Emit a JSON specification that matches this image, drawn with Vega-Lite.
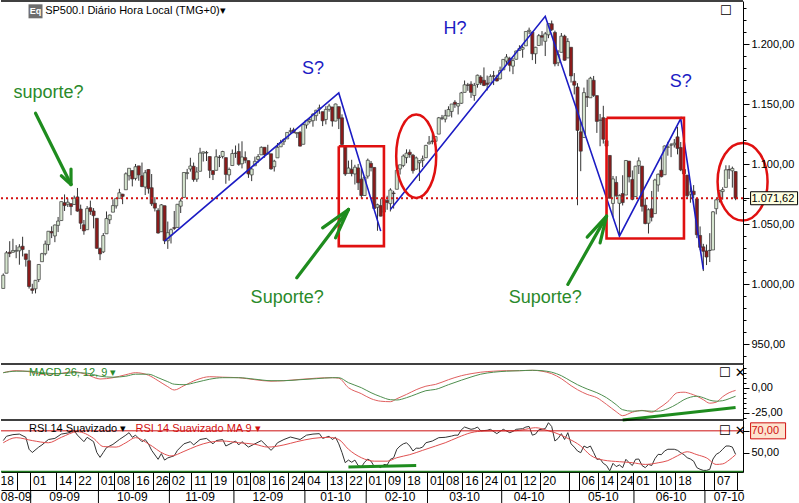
{
"$schema":"https://vega.github.io/schema/vega-lite/v6.json",
"padding":0,
"autosize":{"type":"pad"},
"background":"white",
"spacing":0,
"bounds":"flush",
"resolve":{"scale":{"x":"shared"}},
"config":{
 "view":{"stroke":null},
 "concat":{"spacing":0},
 "locale":{"number":{"decimal":",","thousands":".","grouping":[3],"currency":["",""],"minus":"-"}},
 "axis":{"labelFont":"Liberation Sans","labelColor":"#000000","domainColor":"#000000","tickColor":"#000000","grid":false},
 "text":{"font":"Liberation Sans"}
},
"datasets":{
"px":[
{"d":"2009-08-20","o":996.4,"h":1008.9,"l":996.4,"c":1007.4},
{"d":"2009-08-21","o":1009.1,"h":1027.6,"l":1009.1,"c":1026.1},
{"d":"2009-08-24","o":1026.6,"h":1035.8,"l":1022.5,"c":1025.6},
{"d":"2009-08-25","o":1026.6,"h":1037.8,"l":1026.2,"c":1028.0},
{"d":"2009-08-26","o":1027.4,"h":1032.5,"l":1021.6,"c":1028.1},
{"d":"2009-08-27","o":1027.8,"h":1033.3,"l":1016.2,"c":1031.0},
{"d":"2009-08-28","o":1031.6,"h":1039.5,"l":1023.1,"c":1028.9},
{"d":"2009-08-31","o":1025.2,"h":1025.2,"l":1014.6,"c":1020.6},
{"d":"2009-09-01","o":1019.5,"h":1028.5,"l":996.3,"c":998.0},
{"d":"2009-09-02","o":996.1,"h":1000.3,"l":992.0,"c":994.8},
{"d":"2009-09-03","o":996.1,"h":1003.4,"l":992.3,"c":1003.2},
{"d":"2009-09-04","o":1003.8,"h":1016.5,"l":1001.7,"c":1016.4},
{"d":"2009-09-08","o":1018.7,"h":1026.1,"l":1018.7,"c":1025.4},
{"d":"2009-09-09","o":1025.4,"h":1036.3,"l":1024.0,"c":1033.4},
{"d":"2009-09-10","o":1033.0,"h":1044.1,"l":1028.0,"c":1044.1},
{"d":"2009-09-11","o":1043.9,"h":1048.2,"l":1038.4,"c":1042.7},
{"d":"2009-09-14","o":1040.2,"h":1049.7,"l":1035.0,"c":1049.3},
{"d":"2009-09-15","o":1049.0,"h":1056.0,"l":1043.4,"c":1052.6},
{"d":"2009-09-16","o":1053.0,"h":1068.8,"l":1052.9,"c":1068.8},
{"d":"2009-09-17","o":1067.9,"h":1074.8,"l":1061.0,"c":1065.5},
{"d":"2009-09-18","o":1066.6,"h":1071.5,"l":1064.3,"c":1068.3},
{"d":"2009-09-21","o":1067.1,"h":1067.3,"l":1057.5,"c":1064.7},
{"d":"2009-09-22","o":1066.4,"h":1073.8,"l":1066.4,"c":1071.7},
{"d":"2009-09-23","o":1072.7,"h":1080.2,"l":1060.4,"c":1060.9},
{"d":"2009-09-24","o":1062.6,"h":1066.3,"l":1045.9,"c":1050.8},
{"d":"2009-09-25","o":1049.5,"h":1053.5,"l":1041.2,"c":1044.4},
{"d":"2009-09-28","o":1045.4,"h":1065.1,"l":1045.4,"c":1063.0},
{"d":"2009-09-29","o":1063.7,"h":1069.6,"l":1057.8,"c":1060.6},
{"d":"2009-09-30","o":1061.0,"h":1063.4,"l":1046.5,"c":1057.1},
{"d":"2009-10-01","o":1054.9,"h":1054.9,"l":1029.5,"c":1029.9},
{"d":"2009-10-02","o":1029.7,"h":1030.6,"l":1020.0,"c":1025.2},
{"d":"2009-10-05","o":1026.9,"h":1042.6,"l":1025.9,"c":1040.5},
{"d":"2009-10-06","o":1042.0,"h":1060.6,"l":1042.0,"c":1054.7},
{"d":"2009-10-07","o":1053.7,"h":1058.0,"l":1050.1,"c":1057.6},
{"d":"2009-10-08","o":1060.0,"h":1070.7,"l":1060.0,"c":1065.5},
{"d":"2009-10-09","o":1065.3,"h":1071.5,"l":1063.0,"c":1071.5},
{"d":"2009-10-12","o":1071.6,"h":1079.5,"l":1071.6,"c":1076.2},
{"d":"2009-10-13","o":1075.0,"h":1075.3,"l":1066.7,"c":1073.2},
{"d":"2009-10-14","o":1078.7,"h":1093.2,"l":1078.7,"c":1092.0},
{"d":"2009-10-15","o":1090.4,"h":1096.6,"l":1086.4,"c":1096.6},
{"d":"2009-10-16","o":1094.7,"h":1094.7,"l":1081.5,"c":1087.7},
{"d":"2009-10-19","o":1088.2,"h":1100.2,"l":1086.5,"c":1097.9},
{"d":"2009-10-20","o":1098.6,"h":1098.6,"l":1086.2,"c":1091.1},
{"d":"2009-10-21","o":1090.4,"h":1101.4,"l":1080.8,"c":1081.4},
{"d":"2009-10-22","o":1081.0,"h":1095.2,"l":1074.3,"c":1092.9},
{"d":"2009-10-23","o":1095.6,"h":1095.8,"l":1075.5,"c":1079.6},
{"d":"2009-10-26","o":1080.4,"h":1091.8,"l":1065.2,"c":1067.0},
{"d":"2009-10-27","o":1067.5,"h":1072.5,"l":1060.6,"c":1063.4},
{"d":"2009-10-28","o":1061.5,"h":1063.3,"l":1042.2,"c":1042.6},
{"d":"2009-10-29","o":1043.7,"h":1066.8,"l":1043.7,"c":1066.1},
{"d":"2009-10-30","o":1065.4,"h":1065.4,"l":1033.4,"c":1036.2},
{"d":"2009-11-02","o":1036.2,"h":1052.2,"l":1029.4,"c":1042.9},
{"d":"2009-11-03","o":1040.9,"h":1046.4,"l":1033.9,"c":1045.4},
{"d":"2009-11-04","o":1047.1,"h":1061.0,"l":1045.2,"c":1046.5},
{"d":"2009-11-05","o":1047.3,"h":1066.7,"l":1047.3,"c":1066.6},
{"d":"2009-11-06","o":1065.0,"h":1071.5,"l":1059.3,"c":1069.3},
{"d":"2009-11-09","o":1072.3,"h":1093.2,"l":1072.3,"c":1093.1},
{"d":"2009-11-10","o":1092.2,"h":1096.1,"l":1087.4,"c":1093.0},
{"d":"2009-11-11","o":1096.0,"h":1105.4,"l":1093.8,"c":1098.5},
{"d":"2009-11-12","o":1098.3,"h":1101.4,"l":1085.4,"c":1087.2},
{"d":"2009-11-13","o":1087.6,"h":1097.6,"l":1085.3,"c":1093.5},
{"d":"2009-11-16","o":1094.1,"h":1113.7,"l":1094.1,"c":1109.3},
{"d":"2009-11-17","o":1109.2,"h":1110.5,"l":1102.2,"c":1110.3},
{"d":"2009-11-18","o":1109.4,"h":1111.1,"l":1102.7,"c":1109.8},
{"d":"2009-11-19","o":1106.4,"h":1106.4,"l":1088.4,"c":1094.9},
{"d":"2009-11-20","o":1094.7,"h":1094.7,"l":1086.8,"c":1091.4},
{"d":"2009-11-23","o":1094.9,"h":1112.4,"l":1094.9,"c":1106.2},
{"d":"2009-11-24","o":1105.8,"h":1107.6,"l":1097.6,"c":1105.7},
{"d":"2009-11-25","o":1106.5,"h":1111.2,"l":1104.8,"c":1110.6},
{"d":"2009-11-27","o":1105.5,"h":1105.5,"l":1083.7,"c":1091.5},
{"d":"2009-11-30","o":1091.1,"h":1097.2,"l":1086.3,"c":1095.6},
{"d":"2009-12-01","o":1098.9,"h":1112.3,"l":1098.9,"c":1108.9},
{"d":"2009-12-02","o":1109.0,"h":1115.6,"l":1105.3,"c":1109.2},
{"d":"2009-12-03","o":1110.6,"h":1117.3,"l":1098.7,"c":1099.9},
{"d":"2009-12-04","o":1100.4,"h":1119.1,"l":1096.5,"c":1106.0},
{"d":"2009-12-07","o":1105.5,"h":1110.7,"l":1100.8,"c":1103.3},
{"d":"2009-12-08","o":1103.0,"h":1103.0,"l":1088.6,"c":1091.9},
{"d":"2009-12-09","o":1091.1,"h":1097.0,"l":1085.9,"c":1096.0},
{"d":"2009-12-10","o":1098.7,"h":1106.3,"l":1098.7,"c":1102.4},
{"d":"2009-12-11","o":1104.0,"h":1108.5,"l":1101.3,"c":1106.4},
{"d":"2009-12-14","o":1107.8,"h":1114.8,"l":1107.8,"c":1114.1},
{"d":"2009-12-15","o":1114.1,"h":1114.1,"l":1105.4,"c":1107.9},
{"d":"2009-12-16","o":1108.6,"h":1116.2,"l":1108.0,"c":1109.2},
{"d":"2009-12-17","o":1108.7,"h":1108.7,"l":1095.4,"c":1096.1},
{"d":"2009-12-18","o":1097.9,"h":1103.7,"l":1093.9,"c":1102.5},
{"d":"2009-12-21","o":1105.3,"h":1117.7,"l":1105.3,"c":1114.1},
{"d":"2009-12-22","o":1114.5,"h":1120.3,"l":1114.5,"c":1118.0},
{"d":"2009-12-23","o":1118.8,"h":1121.6,"l":1116.0,"c":1120.6},
{"d":"2009-12-24","o":1121.1,"h":1126.5,"l":1121.1,"c":1126.5},
{"d":"2009-12-28","o":1127.5,"h":1130.4,"l":1126.1,"c":1127.8},
{"d":"2009-12-29","o":1128.6,"h":1130.4,"l":1126.2,"c":1126.2},
{"d":"2009-12-30","o":1125.5,"h":1126.4,"l":1121.9,"c":1126.4},
{"d":"2009-12-31","o":1126.6,"h":1127.6,"l":1114.8,"c":1115.1},
{"d":"2010-01-04","o":1116.6,"h":1133.9,"l":1116.6,"c":1133.0},
{"d":"2010-01-05","o":1132.7,"h":1136.6,"l":1129.7,"c":1136.5},
{"d":"2010-01-06","o":1135.7,"h":1139.2,"l":1134.0,"c":1137.1},
{"d":"2010-01-07","o":1136.3,"h":1142.5,"l":1131.3,"c":1141.7},
{"d":"2010-01-08","o":1140.5,"h":1145.4,"l":1136.2,"c":1145.0},
{"d":"2010-01-11","o":1146.0,"h":1149.7,"l":1142.0,"c":1147.0},
{"d":"2010-01-12","o":1143.8,"h":1143.8,"l":1131.8,"c":1136.2},
{"d":"2010-01-13","o":1137.3,"h":1148.4,"l":1133.2,"c":1145.7},
{"d":"2010-01-14","o":1145.7,"h":1150.4,"l":1143.8,"c":1148.5},
{"d":"2010-01-15","o":1147.7,"h":1147.8,"l":1131.4,"c":1136.0},
{"d":"2010-01-19","o":1136.0,"h":1150.5,"l":1135.8,"c":1150.2},
{"d":"2010-01-20","o":1148.0,"h":1148.0,"l":1129.3,"c":1138.0},
{"d":"2010-01-21","o":1138.7,"h":1141.6,"l":1114.8,"c":1116.5},
{"d":"2010-01-22","o":1115.5,"h":1115.5,"l":1090.2,"c":1091.8},
{"d":"2010-01-25","o":1092.4,"h":1103.0,"l":1092.4,"c":1096.8},
{"d":"2010-01-26","o":1095.8,"h":1103.7,"l":1089.9,"c":1092.2},
{"d":"2010-01-27","o":1091.9,"h":1099.5,"l":1083.1,"c":1097.5},
{"d":"2010-01-28","o":1096.9,"h":1100.2,"l":1078.5,"c":1084.5},
{"d":"2010-01-29","o":1087.6,"h":1096.5,"l":1071.6,"c":1073.9},
{"d":"2010-02-01","o":1073.9,"h":1089.4,"l":1073.9,"c":1089.2},
{"d":"2010-02-02","o":1090.1,"h":1104.7,"l":1088.0,"c":1103.3},
{"d":"2010-02-03","o":1100.7,"h":1102.7,"l":1094.0,"c":1097.3},
{"d":"2010-02-04","o":1097.3,"h":1097.3,"l":1062.8,"c":1063.1},
{"d":"2010-02-05","o":1064.1,"h":1067.1,"l":1044.5,"c":1066.2},
{"d":"2010-02-08","o":1065.5,"h":1071.2,"l":1056.5,"c":1056.7},
{"d":"2010-02-09","o":1060.1,"h":1079.3,"l":1060.1,"c":1070.5},
{"d":"2010-02-10","o":1069.7,"h":1073.7,"l":1062.0,"c":1068.1},
{"d":"2010-02-11","o":1067.1,"h":1080.0,"l":1060.6,"c":1078.5},
{"d":"2010-02-12","o":1076.0,"h":1077.8,"l":1063.0,"c":1075.5},
{"d":"2010-02-16","o":1079.1,"h":1095.7,"l":1079.1,"c":1094.9},
{"d":"2010-02-17","o":1096.1,"h":1099.5,"l":1091.4,"c":1099.5},
{"d":"2010-02-18","o":1099.0,"h":1108.2,"l":1097.5,"c":1106.8},
{"d":"2010-02-19","o":1105.5,"h":1112.4,"l":1100.8,"c":1109.2},
{"d":"2010-02-22","o":1110.0,"h":1112.3,"l":1105.4,"c":1108.0},
{"d":"2010-02-23","o":1107.5,"h":1108.6,"l":1092.2,"c":1094.6},
{"d":"2010-02-24","o":1095.9,"h":1106.4,"l":1095.5,"c":1105.2},
{"d":"2010-02-25","o":1101.2,"h":1103.5,"l":1086.0,"c":1102.9},
{"d":"2010-02-26","o":1103.1,"h":1107.2,"l":1097.6,"c":1104.5},
{"d":"2010-03-01","o":1105.4,"h":1116.1,"l":1105.4,"c":1115.7},
{"d":"2010-03-02","o":1117.0,"h":1123.5,"l":1116.5,"c":1118.3},
{"d":"2010-03-03","o":1119.4,"h":1125.6,"l":1116.6,"c":1118.8},
{"d":"2010-03-04","o":1119.1,"h":1123.0,"l":1112.1,"c":1123.0},
{"d":"2010-03-05","o":1125.1,"h":1139.4,"l":1125.1,"c":1138.7},
{"d":"2010-03-08","o":1138.4,"h":1141.1,"l":1136.8,"c":1138.5},
{"d":"2010-03-09","o":1137.6,"h":1145.4,"l":1134.9,"c":1140.5},
{"d":"2010-03-10","o":1140.2,"h":1148.3,"l":1140.1,"c":1145.6},
{"d":"2010-03-11","o":1144.0,"h":1150.2,"l":1139.0,"c":1150.2},
{"d":"2010-03-12","o":1151.7,"h":1153.4,"l":1147.0,"c":1150.0},
{"d":"2010-03-15","o":1148.5,"h":1151.0,"l":1141.5,"c":1150.5},
{"d":"2010-03-16","o":1150.8,"h":1160.3,"l":1150.4,"c":1159.5},
{"d":"2010-03-17","o":1159.9,"h":1169.8,"l":1159.9,"c":1166.2},
{"d":"2010-03-18","o":1166.1,"h":1167.8,"l":1161.2,"c":1165.8},
{"d":"2010-03-19","o":1166.7,"h":1169.2,"l":1155.3,"c":1159.9},
{"d":"2010-03-22","o":1157.3,"h":1167.8,"l":1152.9,"c":1165.8},
{"d":"2010-03-23","o":1166.5,"h":1174.7,"l":1163.8,"c":1174.2},
{"d":"2010-03-24","o":1172.7,"h":1174.2,"l":1166.1,"c":1167.7},
{"d":"2010-03-25","o":1170.0,"h":1180.7,"l":1165.1,"c":1165.7},
{"d":"2010-03-26","o":1167.6,"h":1173.9,"l":1161.5,"c":1166.6},
{"d":"2010-03-29","o":1167.7,"h":1174.9,"l":1167.7,"c":1173.2},
{"d":"2010-03-30","o":1173.8,"h":1177.8,"l":1166.0,"c":1173.3},
{"d":"2010-03-31","o":1171.8,"h":1174.6,"l":1169.0,"c":1169.4},
{"d":"2010-04-01","o":1171.2,"h":1181.4,"l":1170.7,"c":1178.1},
{"d":"2010-04-05","o":1178.7,"h":1187.7,"l":1178.7,"c":1187.4},
{"d":"2010-04-06","o":1186.0,"h":1191.8,"l":1182.8,"c":1189.4},
{"d":"2010-04-07","o":1188.2,"h":1189.6,"l":1177.3,"c":1182.5},
{"d":"2010-04-08","o":1181.8,"h":1188.6,"l":1175.1,"c":1186.4},
{"d":"2010-04-09","o":1187.5,"h":1194.7,"l":1187.2,"c":1194.4},
{"d":"2010-04-12","o":1194.9,"h":1199.2,"l":1194.7,"c":1196.5},
{"d":"2010-04-13","o":1195.9,"h":1199.0,"l":1188.8,"c":1197.3},
{"d":"2010-04-14","o":1198.7,"h":1210.7,"l":1198.7,"c":1210.7},
{"d":"2010-04-15","o":1210.8,"h":1213.9,"l":1208.5,"c":1211.7},
{"d":"2010-04-16","o":1210.2,"h":1210.2,"l":1186.8,"c":1192.1},
{"d":"2010-04-19","o":1192.1,"h":1197.9,"l":1183.7,"c":1197.5},
{"d":"2010-04-20","o":1199.0,"h":1208.6,"l":1199.0,"c":1207.2},
{"d":"2010-04-21","o":1207.2,"h":1211.0,"l":1198.9,"c":1205.9},
{"d":"2010-04-22","o":1202.5,"h":1210.3,"l":1190.2,"c":1208.7},
{"d":"2010-04-23","o":1207.9,"h":1217.3,"l":1205.1,"c":1217.3},
{"d":"2010-04-26","o":1217.1,"h":1219.8,"l":1211.1,"c":1212.1},
{"d":"2010-04-27","o":1209.9,"h":1211.4,"l":1181.6,"c":1183.7},
{"d":"2010-04-28","o":1184.6,"h":1195.1,"l":1181.8,"c":1191.4},
{"d":"2010-04-29","o":1193.3,"h":1209.4,"l":1193.3,"c":1206.8},
{"d":"2010-04-30","o":1206.8,"h":1208.0,"l":1186.3,"c":1186.7},
{"d":"2010-05-03","o":1188.6,"h":1205.1,"l":1188.6,"c":1202.3},
{"d":"2010-05-04","o":1197.5,"h":1197.5,"l":1168.1,"c":1173.6},
{"d":"2010-05-05","o":1169.2,"h":1176.0,"l":1158.2,"c":1165.9},
{"d":"2010-05-06","o":1164.4,"h":1167.6,"l":1065.8,"c":1128.2},
{"d":"2010-05-07","o":1127.0,"h":1135.1,"l":1094.2,"c":1110.9},
{"d":"2010-05-10","o":1122.3,"h":1163.9,"l":1122.3,"c":1159.7},
{"d":"2010-05-11","o":1156.4,"h":1170.5,"l":1147.7,"c":1155.8},
{"d":"2010-05-12","o":1155.4,"h":1172.9,"l":1155.4,"c":1171.7},
{"d":"2010-05-13","o":1170.0,"h":1173.6,"l":1156.1,"c":1157.4},
{"d":"2010-05-14","o":1157.2,"h":1157.2,"l":1126.1,"c":1135.7},
{"d":"2010-05-17","o":1136.5,"h":1141.9,"l":1115.0,"c":1136.9},
{"d":"2010-05-18","o":1138.8,"h":1148.7,"l":1117.2,"c":1120.8},
{"d":"2010-05-19","o":1119.6,"h":1124.3,"l":1100.7,"c":1115.1},
{"d":"2010-05-20","o":1107.3,"h":1107.3,"l":1071.6,"c":1071.6},
{"d":"2010-05-21","o":1067.3,"h":1090.2,"l":1055.9,"c":1087.7},
{"d":"2010-05-24","o":1084.8,"h":1090.0,"l":1072.7,"c":1073.7},
{"d":"2010-05-25","o":1067.4,"h":1074.8,"l":1040.8,"c":1074.0},
{"d":"2010-05-26","o":1075.5,"h":1090.8,"l":1065.6,"c":1068.0},
{"d":"2010-05-27","o":1074.3,"h":1103.5,"l":1074.3,"c":1103.1},
{"d":"2010-05-28","o":1102.6,"h":1102.6,"l":1084.8,"c":1089.4},
{"d":"2010-06-01","o":1087.3,"h":1094.8,"l":1069.9,"c":1070.7},
{"d":"2010-06-02","o":1073.0,"h":1098.6,"l":1072.9,"c":1098.4},
{"d":"2010-06-03","o":1098.8,"h":1105.7,"l":1091.8,"c":1102.8},
{"d":"2010-06-04","o":1098.4,"h":1098.4,"l":1060.5,"c":1064.9},
{"d":"2010-06-07","o":1065.8,"h":1071.4,"l":1049.9,"c":1050.5},
{"d":"2010-06-08","o":1050.8,"h":1063.2,"l":1042.2,"c":1062.0},
{"d":"2010-06-09","o":1062.8,"h":1077.7,"l":1052.3,"c":1055.7},
{"d":"2010-06-10","o":1058.8,"h":1087.9,"l":1058.8,"c":1086.8},
{"d":"2010-06-11","o":1082.7,"h":1092.3,"l":1077.1,"c":1091.6},
{"d":"2010-06-14","o":1095.0,"h":1105.9,"l":1089.0,"c":1089.6},
{"d":"2010-06-15","o":1091.2,"h":1115.6,"l":1091.2,"c":1115.2},
{"d":"2010-06-16","o":1114.0,"h":1118.7,"l":1107.1,"c":1114.6},
{"d":"2010-06-17","o":1116.0,"h":1117.7,"l":1105.9,"c":1116.0},
{"d":"2010-06-18","o":1116.2,"h":1121.0,"l":1113.9,"c":1117.5},
{"d":"2010-06-21","o":1122.8,"h":1131.2,"l":1108.2,"c":1113.2},
{"d":"2010-06-22","o":1113.9,"h":1118.5,"l":1094.2,"c":1095.3},
{"d":"2010-06-23","o":1095.6,"h":1099.6,"l":1085.3,"c":1092.0},
{"d":"2010-06-24","o":1090.9,"h":1090.9,"l":1071.6,"c":1073.7},
{"d":"2010-06-25","o":1075.1,"h":1083.6,"l":1067.9,"c":1076.8},
{"d":"2010-06-28","o":1077.5,"h":1082.6,"l":1071.5,"c":1074.6},
{"d":"2010-06-29","o":1071.1,"h":1071.1,"l":1038.4,"c":1041.2},
{"d":"2010-06-30","o":1040.6,"h":1048.1,"l":1028.3,"c":1030.7},
{"d":"2010-07-01","o":1031.1,"h":1033.6,"l":1010.9,"c":1027.4},
{"d":"2010-07-02","o":1027.7,"h":1033.0,"l":1015.9,"c":1022.6},
{"d":"2010-07-06","o":1028.1,"h":1042.5,"l":1018.4,"c":1028.1},
{"d":"2010-07-07","o":1028.5,"h":1060.9,"l":1028.5,"c":1060.3},
{"d":"2010-07-08","o":1062.9,"h":1071.3,"l":1058.2,"c":1070.3},
{"d":"2010-07-09","o":1070.5,"h":1078.2,"l":1068.1,"c":1078.0},
{"d":"2010-07-12","o":1077.2,"h":1080.8,"l":1070.5,"c":1078.8},
{"d":"2010-07-13","o":1080.7,"h":1099.1,"l":1080.7,"c":1095.3},
{"d":"2010-07-14","o":1095.6,"h":1099.1,"l":1087.7,"c":1095.2},
{"d":"2010-07-15","o":1094.5,"h":1098.0,"l":1080.5,"c":1096.5},
{"d":"2010-07-16","o":1093.9,"h":1093.9,"l":1070.0,"c":1071.62}
],
"macd":[
{"d":"2009-08-20","m":15,"s":15},{"d":"2009-08-26","m":17,"s":16.5},{"d":"2009-09-01","m":16,"s":16.5},{"d":"2009-09-08","m":13.5,"s":15},{"d":"2009-09-15","m":14,"s":14},{"d":"2009-09-22","m":16,"s":15},{"d":"2009-09-28","m":13,"s":14.5},{"d":"2009-10-02","m":8.7,"s":11.5},{"d":"2009-10-08","m":10,"s":10.5},{"d":"2009-10-14","m":13,"s":11.5},{"d":"2009-10-19","m":15,"s":13.5},{"d":"2009-10-23","m":12.5,"s":13.5},{"d":"2009-10-28","m":7,"s":10},{"d":"2009-11-02","m":1,"s":6},{"d":"2009-11-04","m":-2.3,"s":3.5},{"d":"2009-11-09","m":2,"s":3},{"d":"2009-11-13","m":8,"s":5.5},{"d":"2009-11-19","m":11,"s":8.5},{"d":"2009-11-25","m":10.5,"s":10},{"d":"2009-12-03","m":10,"s":10},{"d":"2009-12-10","m":8,"s":8.5},{"d":"2009-12-17","m":6.5,"s":7},{"d":"2009-12-23","m":7,"s":7},{"d":"2009-12-31","m":8.3,"s":8},{"d":"2010-01-08","m":9.5,"s":9},{"d":"2010-01-15","m":10,"s":10},{"d":"2010-01-20","m":9.5,"s":10},{"d":"2010-01-25","m":0,"s":5},{"d":"2010-01-29","m":-6,"s":0},{"d":"2010-02-03","m":-11,"s":-5},{"d":"2010-02-08","m":-13.5,"s":-9},{"d":"2010-02-11","m":-14,"s":-12},{"d":"2010-02-16","m":-11,"s":-12.3},{"d":"2010-02-19","m":-6.7,"s":-10},{"d":"2010-02-24","m":-2,"s":-6.5},{"d":"2010-03-01","m":1.5,"s":-3},{"d":"2010-03-04","m":3.3,"s":-1.7},{"d":"2010-03-10","m":8,"s":3},{"d":"2010-03-16","m":12,"s":7.5},{"d":"2010-03-19","m":14,"s":10.7},{"d":"2010-03-24","m":15.5,"s":13.5},{"d":"2010-03-30","m":16.5,"s":15.5},{"d":"2010-04-06","m":17,"s":16.5},{"d":"2010-04-12","m":17,"s":17},{"d":"2010-04-16","m":17.4,"s":17.4},{"d":"2010-04-21","m":16.5,"s":17},{"d":"2010-04-26","m":14,"s":15.5},{"d":"2010-04-29","m":9,"s":12},{"d":"2010-05-04","m":2,"s":6.5},{"d":"2010-05-06","m":-2,"s":3},{"d":"2010-05-11","m":-6.7,"s":-1.3},{"d":"2010-05-14","m":-10,"s":-5},{"d":"2010-05-19","m":-16.7,"s":-10},{"d":"2010-05-24","m":-24,"s":-17},{"d":"2010-05-26","m":-28,"s":-22},{"d":"2010-06-01","m":-24.5,"s":-23.5},{"d":"2010-06-04","m":-22.7,"s":-23},{"d":"2010-06-09","m":-24.5,"s":-23.5},{"d":"2010-06-11","m":-21,"s":-23.5},{"d":"2010-06-16","m":-14,"s":-21},{"d":"2010-06-21","m":-5,"s":-16},{"d":"2010-06-23","m":-4.5,"s":-12},{"d":"2010-06-25","m":-6,"s":-9.5},{"d":"2010-06-29","m":-8.5,"s":-8.5},{"d":"2010-07-01","m":-12,"s":-10},{"d":"2010-07-06","m":-15.5,"s":-12.5},{"d":"2010-07-08","m":-14.5,"s":-13.5},{"d":"2010-07-12","m":-9,"s":-13},{"d":"2010-07-14","m":-5,"s":-11},{"d":"2010-07-16","m":-2.7,"s":-8.5}
],
"rsi":[
{"d":"2009-08-20","r":61},{"d":"2009-08-21","r":65},{"d":"2009-08-25","r":66.5},{"d":"2009-08-27","r":67},{"d":"2009-08-31","r":64},{"d":"2009-09-01","r":53},{"d":"2009-09-02","r":50},{"d":"2009-09-04","r":55},{"d":"2009-09-08","r":57},{"d":"2009-09-10","r":62},{"d":"2009-09-14","r":63},{"d":"2009-09-16","r":67},{"d":"2009-09-18","r":68},{"d":"2009-09-22","r":70},{"d":"2009-09-23","r":66},{"d":"2009-09-25","r":60},{"d":"2009-09-28","r":64},{"d":"2009-09-30","r":60},{"d":"2009-10-01","r":50},{"d":"2009-10-02","r":45.5},{"d":"2009-10-05","r":50},{"d":"2009-10-06","r":54.5},{"d":"2009-10-08","r":57.5},{"d":"2009-10-12","r":62},{"d":"2009-10-14","r":66},{"d":"2009-10-15","r":68.3},{"d":"2009-10-16","r":64},{"d":"2009-10-19","r":66},{"d":"2009-10-21","r":60},{"d":"2009-10-22","r":62},{"d":"2009-10-23","r":58},{"d":"2009-10-26","r":52},{"d":"2009-10-28","r":43.7},{"d":"2009-10-29","r":49},{"d":"2009-10-30","r":43},{"d":"2009-11-02","r":45},{"d":"2009-11-04","r":47},{"d":"2009-11-05","r":52},{"d":"2009-11-09","r":58},{"d":"2009-11-11","r":60},{"d":"2009-11-12","r":57},{"d":"2009-11-16","r":62},{"d":"2009-11-18","r":63},{"d":"2009-11-20","r":58},{"d":"2009-11-23","r":61},{"d":"2009-11-25","r":62},{"d":"2009-11-27","r":56},{"d":"2009-12-01","r":59},{"d":"2009-12-02","r":60.6},{"d":"2009-12-03","r":57},{"d":"2009-12-04","r":60},{"d":"2009-12-08","r":55},{"d":"2009-12-10","r":58},{"d":"2009-12-14","r":61},{"d":"2009-12-17","r":52},{"d":"2009-12-18","r":55},{"d":"2009-12-21","r":59},{"d":"2009-12-23","r":62},{"d":"2009-12-28","r":64.3},{"d":"2009-12-31","r":62},{"d":"2010-01-05","r":66},{"d":"2010-01-07","r":67},{"d":"2010-01-11","r":67.4},{"d":"2010-01-12","r":63},{"d":"2010-01-14","r":65},{"d":"2010-01-15","r":62},{"d":"2010-01-19","r":64},{"d":"2010-01-20","r":58},{"d":"2010-01-21","r":50},{"d":"2010-01-22","r":40.6},{"d":"2010-01-25","r":43},{"d":"2010-01-26","r":41},{"d":"2010-01-27","r":43},{"d":"2010-01-28","r":38},{"d":"2010-01-29","r":36.6},{"d":"2010-02-01","r":41},{"d":"2010-02-02","r":44},{"d":"2010-02-03","r":42},{"d":"2010-02-04","r":37},{"d":"2010-02-05","r":37.5},{"d":"2010-02-08","r":36},{"d":"2010-02-09","r":39},{"d":"2010-02-10","r":38.5},{"d":"2010-02-11","r":43.7},{"d":"2010-02-12","r":45},{"d":"2010-02-16","r":53},{"d":"2010-02-17","r":56},{"d":"2010-02-18","r":58},{"d":"2010-02-19","r":59},{"d":"2010-02-22","r":56},{"d":"2010-02-23","r":51.4},{"d":"2010-02-24","r":54},{"d":"2010-02-25","r":53.9},{"d":"2010-02-26","r":55},{"d":"2010-03-01","r":59},{"d":"2010-03-03","r":60.6},{"d":"2010-03-05","r":63.7},{"d":"2010-03-09","r":64},{"d":"2010-03-11","r":65.2},{"d":"2010-03-12","r":66},{"d":"2010-03-15","r":66},{"d":"2010-03-16","r":71},{"d":"2010-03-17","r":73.5},{"d":"2010-03-19","r":71.4},{"d":"2010-03-22","r":72},{"d":"2010-03-23","r":73.5},{"d":"2010-03-24","r":70},{"d":"2010-03-26","r":70.5},{"d":"2010-03-29","r":71.4},{"d":"2010-03-31","r":67.4},{"d":"2010-04-01","r":69.5},{"d":"2010-04-05","r":71.4},{"d":"2010-04-07","r":68.3},{"d":"2010-04-08","r":69.5},{"d":"2010-04-09","r":71.4},{"d":"2010-04-13","r":72},{"d":"2010-04-14","r":73.5},{"d":"2010-04-15","r":74},{"d":"2010-04-16","r":66},{"d":"2010-04-19","r":67},{"d":"2010-04-20","r":71},{"d":"2010-04-22","r":72},{"d":"2010-04-23","r":77.5},{"d":"2010-04-26","r":74},{"d":"2010-04-27","r":60.6},{"d":"2010-04-28","r":63},{"d":"2010-04-29","r":67.4},{"d":"2010-04-30","r":62},{"d":"2010-05-03","r":68.3},{"d":"2010-05-04","r":58},{"d":"2010-05-05","r":55},{"d":"2010-05-06","r":51.4},{"d":"2010-05-07","r":49.8},{"d":"2010-05-10","r":56},{"d":"2010-05-11","r":54.4},{"d":"2010-05-12","r":56},{"d":"2010-05-13","r":50},{"d":"2010-05-14","r":43.7},{"d":"2010-05-17","r":44},{"d":"2010-05-18","r":40},{"d":"2010-05-19","r":38},{"d":"2010-05-20","r":33},{"d":"2010-05-21","r":40},{"d":"2010-05-24","r":37},{"d":"2010-05-25","r":38.5},{"d":"2010-05-26","r":36},{"d":"2010-05-27","r":43.7},{"d":"2010-05-28","r":40.6},{"d":"2010-06-01","r":38},{"d":"2010-06-02","r":43.7},{"d":"2010-06-03","r":44},{"d":"2010-06-04","r":38},{"d":"2010-06-07","r":36},{"d":"2010-06-08","r":39},{"d":"2010-06-09","r":38},{"d":"2010-06-10","r":44.3},{"d":"2010-06-11","r":48.3},{"d":"2010-06-14","r":48},{"d":"2010-06-15","r":51.4},{"d":"2010-06-16","r":53},{"d":"2010-06-18","r":53},{"d":"2010-06-21","r":52},{"d":"2010-06-22","r":49.8},{"d":"2010-06-23","r":48},{"d":"2010-06-24","r":45.2},{"d":"2010-06-25","r":44},{"d":"2010-06-28","r":42},{"d":"2010-06-29","r":36},{"d":"2010-06-30","r":34.5},{"d":"2010-07-01","r":33.5},{"d":"2010-07-02","r":33.5},{"d":"2010-07-06","r":34.5},{"d":"2010-07-07","r":44},{"d":"2010-07-08","r":48.3},{"d":"2010-07-09","r":50},{"d":"2010-07-12","r":53},{"d":"2010-07-13","r":56},{"d":"2010-07-14","r":56},{"d":"2010-07-15","r":55},{"d":"2010-07-16","r":48.3}
],
"rsima":[
{"d":"2009-08-20","a":59},{"d":"2009-08-26","a":63.7},{"d":"2009-09-02","a":61},{"d":"2009-09-10","a":59},{"d":"2009-09-16","a":64},{"d":"2009-09-23","a":69.2},{"d":"2009-09-30","a":63},{"d":"2009-10-05","a":55.5},{"d":"2009-10-09","a":55},{"d":"2009-10-14","a":59},{"d":"2009-10-19","a":63.7},{"d":"2009-10-23","a":58},{"d":"2009-10-30","a":48.5},{"d":"2009-11-03","a":46.8},{"d":"2009-11-09","a":51},{"d":"2009-11-13","a":56},{"d":"2009-11-19","a":59.5},{"d":"2009-11-25","a":60.6},{"d":"2009-12-03","a":59},{"d":"2009-12-10","a":57.6},{"d":"2009-12-16","a":55},{"d":"2009-12-23","a":57},{"d":"2009-12-30","a":60},{"d":"2010-01-07","a":63},{"d":"2010-01-14","a":64},{"d":"2010-01-20","a":62},{"d":"2010-01-25","a":53},{"d":"2010-01-29","a":45.2},{"d":"2010-02-04","a":42},{"d":"2010-02-10","a":42},{"d":"2010-02-16","a":45.2},{"d":"2010-02-22","a":48},{"d":"2010-02-26","a":52},{"d":"2010-03-04","a":56},{"d":"2010-03-09","a":59},{"d":"2010-03-15","a":64},{"d":"2010-03-19","a":68.3},{"d":"2010-03-25","a":69.8},{"d":"2010-03-31","a":70},{"d":"2010-04-08","a":70},{"d":"2010-04-14","a":71.5},{"d":"2010-04-19","a":72.9},{"d":"2010-04-23","a":70},{"d":"2010-04-27","a":68.3},{"d":"2010-05-03","a":63},{"d":"2010-05-07","a":56},{"d":"2010-05-12","a":47.5},{"d":"2010-05-18","a":43},{"d":"2010-05-25","a":41.5},{"d":"2010-06-01","a":40.6},{"d":"2010-06-07","a":39},{"d":"2010-06-11","a":40.5},{"d":"2010-06-16","a":42.5},{"d":"2010-06-21","a":47},{"d":"2010-06-24","a":50.7},{"d":"2010-06-29","a":48},{"d":"2010-07-02","a":45},{"d":"2010-07-08","a":39},{"d":"2010-07-12","a":39.5},{"d":"2010-07-14","a":43},{"d":"2010-07-16","a":48}
],
"zig":[
{"g":1,"d":"2009-10-30","v":1035.8},{"g":1,"d":"2010-01-20","v":1159.4},{"g":1,"d":"2010-02-08","v":1044.2},
{"g":2,"d":"2010-02-11","v":1062.3},{"g":2,"d":"2010-04-22","v":1223.3},{"g":2,"d":"2010-05-25","v":1040},{"g":2,"d":"2010-06-22","v":1138.1},{"g":2,"d":"2010-07-01","v":1012.2}
],
"boxes":[
{"b":1,"k":1,"d":"2010-01-20","v":1115},{"b":1,"k":2,"d":"2010-02-09","v":1115},{"b":1,"k":3,"d":"2010-02-09","v":1031.7},{"b":1,"k":4,"d":"2010-01-20","v":1031.7},{"b":1,"k":5,"d":"2010-01-20","v":1115},
{"b":2,"k":1,"d":"2010-05-19","v":1138.6},{"b":2,"k":2,"d":"2010-06-23","v":1138.6},{"b":2,"k":3,"d":"2010-06-23","v":1038.1},{"b":2,"k":4,"d":"2010-05-19","v":1038.1},{"b":2,"k":5,"d":"2010-05-19","v":1138.6}
],
"arrows":[
{"g":"a1s","d":"2009-09-03","v":1142.5},{"g":"a1s","d":"2009-09-21","v":1083.1},
{"g":"a1h1","d":"2009-09-21","v":1096},{"g":"a1h1","d":"2009-09-21","v":1083.1},
{"g":"a1h2","d":"2009-09-16","v":1090.4},{"g":"a1h2","d":"2009-09-21","v":1083.1},
{"g":"a2s","d":"2009-12-30","v":1005.25},{"g":"a2s","d":"2010-01-25","v":1062.25},
{"g":"a2h1","d":"2010-01-12","v":1046.9},{"g":"a2h1","d":"2010-01-25","v":1062.25},
{"g":"a2h2","d":"2010-01-19","v":1038.6},{"g":"a2h2","d":"2010-01-25","v":1062.25},
{"g":"a3s","d":"2010-05-03","v":999.75},{"g":"a3s","d":"2010-05-19","v":1056.7},
{"g":"a3h1","d":"2010-05-11","v":1039.2},{"g":"a3h1","d":"2010-05-19","v":1056.7},
{"g":"a3h2","d":"2010-05-17","v":1034.4},{"g":"a3h2","d":"2010-05-19","v":1056.7}
],
"greenNotes":[
{"t":"suporte?","d":"2009-09-10","v":1159.2},{"t":"Suporte?","d":"2009-12-24","v":988.3},{"t":"Suporte?","d":"2010-04-22","v":988.3}
],
"blueNotes":[
{"t":"S?","d":"2010-01-07","v":1179.6},{"t":"H?","d":"2010-03-12","v":1212.9},{"t":"S?","d":"2010-06-22","v":1168.75}
],
"months":[
{"d":"2009-08-26","m":"08-09"},{"d":"2009-09-17","m":"09-09"},{"d":"2009-10-16","m":"10-09"},{"d":"2009-11-16","m":"11-09"},{"d":"2009-12-16","m":"12-09"},{"d":"2010-01-19","m":"01-10"},{"d":"2010-02-17","m":"02-10"},{"d":"2010-03-17","m":"03-10"},{"d":"2010-04-15","m":"04-10"},{"d":"2010-05-18","m":"05-10"},{"d":"2010-06-17","m":"06-10"},{"d":"2010-07-14","m":"07-10"}
],
"mstart":[
{"d":"2009-09-01"},{"d":"2009-10-01"},{"d":"2009-11-02"},{"d":"2009-12-01"},{"d":"2010-01-04"},{"d":"2010-02-01"},{"d":"2010-03-01"},{"d":"2010-04-01"},{"d":"2010-05-03"},{"d":"2010-06-01"},{"d":"2010-07-01"}
]
},
"vconcat":[
{
"width":742,"height":363,
"resolve":{"axis":{"y":"independent"}},
"layer":[
{"data":{"name":"px"},"mark":{"type":"rule","color":"#333333","strokeWidth":1},
 "encoding":{"x":{"field":"d","type":"ordinal","scale":{"type":"band","paddingInner":0,"paddingOuter":2.16,"align":0.1,"round":false},"axis":null},
  "y":{"field":"l","type":"quantitative","scale":{"domain":[933.4,1236.1],"nice":false,"zero":false},
   "axis":{"orient":"right","values":[950,1000,1050,1071.62,1100,1150,1200],"format":",.2f","tickSize":6,
    "labelPadding":2,"labelFontSize":11,"labelOverlap":false,"labelFlush":false,"zindex":1,"title":null}},
  "y2":{"field":"h"}}},
{"data":{"name":"px"},"mark":{"type":"bar","width":{"band":0.95},"stroke":"#383838","strokeWidth":0.7},
 "encoding":{"x":{"field":"d","type":"ordinal","scale":{"type":"band"},"axis":null},
  "y":{"field":"o","type":"quantitative",
   "axis":{"orient":"right","values":[940,960,970,980,990,1010,1020,1030,1040,1060,1070,1080,1090,1110,1120,1130,1140,1160,1170,1180,1190,1210,1220,1230],"tickSize":3,"labels":false,"domain":false,"title":null}},
  "y2":{"field":"c"},
  "fill":{"condition":{"test":"datum.c < datum.o","value":"#8b1a1a"},"value":"#d6e5cf"}}},
{"data":{"values":[{}]},"mark":{"type":"rule","color":"#000000","strokeWidth":1.5},
 "encoding":{"y":{"datum":1236.1,"type":"quantitative","axis":null}}},
{"data":{"values":[{}]},"mark":{"type":"rule","color":"#d41010","strokeWidth":2,"strokeDash":[2,3]},
 "encoding":{"y":{"datum":1071.62,"type":"quantitative","axis":null}}},
{"data":{"name":"zig"},"mark":{"type":"line","color":"#1c1cc4","strokeWidth":1.6},
 "encoding":{"x":{"field":"d","type":"ordinal","scale":{"type":"band"},"axis":null},"y":{"field":"v","type":"quantitative","axis":null},"detail":{"field":"g"}}},
{"data":{"name":"boxes"},"mark":{"type":"line","color":"#e01010","strokeWidth":2.6,"strokeJoin":"miter"},
 "encoding":{"x":{"field":"d","type":"ordinal","scale":{"type":"band"},"axis":null},"y":{"field":"v","type":"quantitative","axis":null},"detail":{"field":"b"},"order":{"field":"k"}}},
{"data":{"values":[{"d":"2010-02-24","v":1106.7}]},"mark":{"type":"point","shape":"M-0.48,0A0.48,1,0,1,1,0.48,0A0.48,1,0,1,1,-0.48,0Z","size":6956,"filled":false,"color":"#e01010","strokeWidth":2.5,"opacity":1},
 "encoding":{"x":{"field":"d","type":"ordinal","scale":{"type":"band"},"axis":null},"y":{"field":"v","type":"quantitative","axis":null}}},
{"data":{"values":[{"d":"2010-07-16","v":1085.4}]},"mark":{"type":"point","shape":"M-0.464,0A0.644,1,0,1,1,0.824,0A0.644,1,0,1,1,-0.464,0Z","size":6022,"filled":false,"color":"#e01010","strokeWidth":2.5,"opacity":1},
 "encoding":{"x":{"field":"d","type":"ordinal","scale":{"type":"band"},"axis":null},"y":{"field":"v","type":"quantitative","axis":null}}},
{"data":{"name":"arrows"},"mark":{"type":"line","color":"#1e8c1e","strokeWidth":3.2,"strokeCap":"round"},
 "encoding":{"x":{"field":"d","type":"ordinal","scale":{"type":"band"},"axis":null},"y":{"field":"v","type":"quantitative","axis":null},"detail":{"field":"g"}}},
{"data":{"name":"greenNotes"},"mark":{"type":"text","color":"#2a8a2a","fontSize":18,"align":"center","baseline":"middle"},
 "encoding":{"x":{"field":"d","type":"ordinal","scale":{"type":"band"},"axis":null},"y":{"field":"v","type":"quantitative","axis":null},"text":{"field":"t"}}},
{"data":{"name":"blueNotes"},"mark":{"type":"text","color":"#1c1cc4","fontSize":18,"align":"center","baseline":"middle"},
 "encoding":{"x":{"field":"d","type":"ordinal","scale":{"type":"band"},"axis":null},"y":{"field":"v","type":"quantitative","axis":null},"text":{"field":"t"}}},
{"data":{"values":[{"d":"2009-09-03","v":1227.5}]},"mark":{"type":"point","shape":"square","size":196,"filled":true,"color":"#6e6e6e","opacity":1},
 "encoding":{"x":{"field":"d","type":"ordinal","scale":{"type":"band"},"axis":null},"y":{"field":"v","type":"quantitative","axis":null}}},
{"data":{"values":[{"d":"2009-09-03","v":1227.5,"t":"Eq"}]},"mark":{"type":"text","color":"#ffffff","fontSize":9,"fontWeight":"bold","align":"center","baseline":"middle"},
 "encoding":{"x":{"field":"d","type":"ordinal","scale":{"type":"band"},"axis":null},"y":{"field":"v","type":"quantitative","axis":null},"text":{"field":"t"}}},
{"data":{"values":[{"d":"2009-09-09","v":1227.5,"t":"SP500.I Diário Hora Local (TMG+0)▾"}]},"mark":{"type":"text","color":"#000000","fontSize":11,"align":"left","baseline":"middle"},
 "encoding":{"x":{"field":"d","type":"ordinal","scale":{"type":"band"},"axis":null},"y":{"field":"v","type":"quantitative","axis":null},"text":{"field":"t"}}},
{"data":{"values":[{"d":"2010-07-13","v":1227.5,"t":"☐"}]},"mark":{"type":"text","color":"#000000","fontSize":13,"font":"DejaVu Sans","align":"center","baseline":"middle"},
 "encoding":{"x":{"field":"d","type":"ordinal","scale":{"type":"band"},"axis":null},"y":{"field":"v","type":"quantitative","axis":null},"text":{"field":"t"}}},
{"data":{"values":[{"d":"2010-07-16","v":1071.62}]},"mark":{"type":"point","shape":"M1.5,-0.65H6.2V0.65H1.5Z","size":400,"filled":true,"fill":"#ffffe1","stroke":"#000000","strokeWidth":1,"opacity":1},
 "encoding":{"x":{"field":"d","type":"ordinal","scale":{"type":"band"},"axis":null},"y":{"field":"v","type":"quantitative","axis":null}}}
]
},
{
"width":742,"height":56,
"resolve":{"axis":{"y":"independent"}},
"layer":[
{"data":{"name":"macd"},"mark":{"type":"line","color":"#e06060","strokeWidth":1,"interpolate":"monotone"},
 "encoding":{"x":{"field":"d","type":"ordinal","scale":{"type":"band","paddingInner":0,"paddingOuter":2.16,"align":0.1,"round":false},"axis":null},
  "y":{"field":"m","type":"quantitative","scale":{"domain":[-32.3,23.7],"nice":false,"zero":false},
   "axis":{"orient":"right","values":[-25,0],"format":",.2f","tickSize":6,"labelPadding":2,"labelFontSize":11,"labelOverlap":false,"labelFlush":false,"title":null}}}},
{"data":{"name":"macd"},"mark":{"type":"line","color":"#4f8f4f","strokeWidth":1,"interpolate":"monotone"},
 "encoding":{"x":{"field":"d","type":"ordinal","scale":{"type":"band"},"axis":null},"y":{"field":"s","type":"quantitative",
   "axis":{"orient":"right","values":[-30,-20,-15,-10,-5,5,10,15,20],"tickSize":3,"labels":false,"domain":false,"title":null}}}},
{"data":{"values":[{"d":"2010-05-26","v":-32.3},{"d":"2010-07-16","v":-19.8}]},"mark":{"type":"line","color":"#1e8c1e","strokeWidth":3},
 "encoding":{"x":{"field":"d","type":"ordinal","scale":{"type":"band"},"axis":null},"y":{"field":"v","type":"quantitative","axis":null}}},
{"data":{"values":[{}]},"mark":{"type":"rule","color":"#000000","strokeWidth":1.5},
 "encoding":{"y":{"datum":23.7,"type":"quantitative","axis":null}}},
{"data":{"values":[{"d":"2009-09-01","v":14.7,"t":"MACD 26, 12, 9 ▾"}]},"mark":{"type":"text","color":"#2a8a2a","fontSize":11,"align":"left","baseline":"middle"},
 "encoding":{"x":{"field":"d","type":"ordinal","scale":{"type":"band"},"axis":null},"y":{"field":"v","type":"quantitative","axis":null},"text":{"field":"t"}}},
{"data":{"values":[{"d":"2010-07-15","v":14.7,"t":"☐ ✕"}]},"mark":{"type":"text","color":"#000000","fontSize":13,"font":"DejaVu Sans","align":"center","baseline":"middle"},
 "encoding":{"x":{"field":"d","type":"ordinal","scale":{"type":"band"},"axis":null},"y":{"field":"v","type":"quantitative","axis":null},"text":{"field":"t"}}}
]
},
{
"width":742,"height":52,
"layer":[
{"data":{"name":"rsi"},"mark":{"type":"line","color":"#333333","strokeWidth":1},
 "encoding":{"x":{"field":"d","type":"ordinal","scale":{"type":"band","paddingInner":0,"paddingOuter":2.16,"align":0.1,"round":false},
   "axis":{"orient":"bottom","values":["2009-08-20","2009-08-26","2009-09-01","2009-09-14","2009-09-22","2009-10-01","2009-10-08","2009-10-16","2009-10-26","2009-11-02","2009-11-11","2009-11-19","2009-12-01","2009-12-08","2009-12-16","2009-12-24","2010-01-04","2010-01-13","2010-01-22","2010-02-01","2010-02-09","2010-02-18","2010-03-01","2010-03-08","2010-03-16","2010-03-24","2010-04-01","2010-04-12","2010-04-20","2010-05-03","2010-05-06","2010-05-14","2010-05-24","2010-06-01","2010-06-10","2010-06-18","2010-07-01","2010-07-07","2010-07-16"],
    "bandPosition":1,"tickSize":18,"domain":true,"labelAngle":0,"labelBaseline":"top","labelPadding":-15,"labelOffset":4,"labelFontSize":12,"labelOverlap":false,"labelFlush":false,"title":null,
    "labelAlign":{"condition":{"test":"datum.value === '2009-08-20'","value":"center"},"value":"left"},
    "tickOpacity":{"condition":{"test":"datum.value === '2009-08-20'","value":0},"value":1},
    "labelExpr":"datum.value === '2009-08-20' ? '18' : (indexof(['2009-08-26','2010-05-03','2010-07-01','2010-07-16'], datum.value) >= 0 ? '' : slice(datum.value, 8, 10))"}},
  "y":{"field":"r","type":"quantitative","scale":{"domain":[32,80],"nice":false,"zero":false},
   "axis":{"orient":"right","values":[50,70],"format":",.2f","tickSize":6,
    "labelColor":{"condition":{"test":"datum.value === 70","value":"#d01010"},"value":"#000000"},
    "labelPadding":2,"labelFontSize":11,"labelOverlap":false,"labelFlush":false,"zindex":1,"title":null}}}},
{"data":{"name":"rsima"},"mark":{"type":"line","color":"#e05050","strokeWidth":1,"interpolate":"monotone"},
 "encoding":{"x":{"field":"d","type":"ordinal","scale":{"type":"band"}},"y":{"field":"a","type":"quantitative"}}},
{"data":{"values":[{}]},"mark":{"type":"rule","color":"#cc1010","strokeWidth":1},
 "encoding":{"y":{"datum":70,"type":"quantitative"}}},
{"data":{"values":[{}]},"mark":{"type":"rule","color":"#1e7a1e","strokeWidth":1.5},
 "encoding":{"y":{"datum":32.4,"type":"quantitative"}}},
{"data":{"values":[{}]},"mark":{"type":"rule","color":"#000000","strokeWidth":1.5},
 "encoding":{"y":{"datum":80,"type":"quantitative"}}},
{"data":{"values":[{"d":"2010-01-25","v":36.6},{"d":"2010-02-24","v":38.1}]},"mark":{"type":"line","color":"#1e8c1e","strokeWidth":3},
 "encoding":{"x":{"field":"d","type":"ordinal","scale":{"type":"band"}},"y":{"field":"v","type":"quantitative"}}},
{"data":{"values":[{"d":"2009-09-01","v":71.7,"t":"RSI 14 Suavizado ▾"}]},"mark":{"type":"text","color":"#000000","fontSize":11,"align":"left","baseline":"middle"},
 "encoding":{"x":{"field":"d","type":"ordinal","scale":{"type":"band"}},"y":{"field":"v","type":"quantitative"},"text":{"field":"t"}}},
{"data":{"values":[{"d":"2009-10-19","v":71.7,"t":"RSI 14 Suavizado MA 9 ▾"}]},"mark":{"type":"text","color":"#d01010","fontSize":11,"align":"left","baseline":"middle"},
 "encoding":{"x":{"field":"d","type":"ordinal","scale":{"type":"band"}},"y":{"field":"v","type":"quantitative"},"text":{"field":"t"}}},
{"data":{"values":[{"d":"2010-07-15","v":70,"t":"☐ ✕"}]},"mark":{"type":"text","color":"#000000","fontSize":13,"font":"DejaVu Sans","align":"center","baseline":"middle"},
 "encoding":{"x":{"field":"d","type":"ordinal","scale":{"type":"band"}},"y":{"field":"v","type":"quantitative"},"text":{"field":"t"}}},
{"data":{"values":[{"d":"2010-07-16","v":70}]},"mark":{"type":"point","shape":"M1.5,-0.8H5V0.8H1.5Z","size":400,"filled":true,"fill":"#fde4cf","stroke":"#d01010","strokeWidth":1,"opacity":1},
 "encoding":{"x":{"field":"d","type":"ordinal","scale":{"type":"band"}},"y":{"field":"v","type":"quantitative"}}}
]
},
{
"width":742,"height":18,
"data":{"values":[]},
"mark":{"type":"point","opacity":0},
"encoding":{}
},
{
"width":742,"height":14,
"layer":[
{"data":{"name":"mstart"},"mark":{"type":"rule","color":"#000000","strokeWidth":1},
 "encoding":{"x":{"field":"d","type":"ordinal","bandPosition":1,"scale":{"type":"band","paddingInner":0,"paddingOuter":2.16,"align":0.1,"round":false},
   "axis":{"orient":"top","domain":true,"ticks":false,"labels":false,"title":null}}}},
{"data":{"name":"months"},"mark":{"type":"text","color":"#000000","fontSize":12,"align":"center","baseline":"middle"},
 "encoding":{"x":{"field":"d","type":"ordinal","scale":{"type":"band"}},"text":{"field":"m"}}}
]
}
]
}
